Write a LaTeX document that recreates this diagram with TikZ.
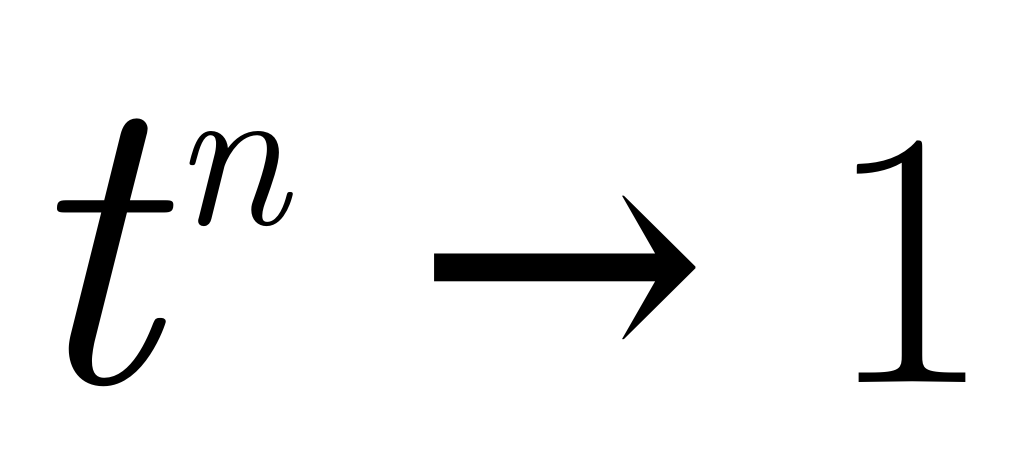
\documentclass[tikz,border=0pt]{standalone}
\usepackage{fontspec}
\newfontfamily\arrowfont{DejaVu Serif}
\tikzset{glyph/.style={anchor=base,inner sep=0pt}}
\begin{document}
\begin{tikzpicture}
	\useasboundingbox (0,0) rectangle (10.24,4.68);
	\node[glyph,font=\fontsize{120}{130}\selectfont\itshape] (t) at (0.88,0.85) {t};
	\node[glyph,font=\fontsize{60}{70}\selectfont\itshape] (n) at (2.3,2.43) {n};
	\node[glyph,font=\fontsize{100}{110}\arrowfont] (arr) at (5.62,0.86) {→};
	\node[glyph,font=\fontsize{104}{120}\selectfont] (one) at (9.09,0.85) {1};
\end{tikzpicture}
\end{document}
